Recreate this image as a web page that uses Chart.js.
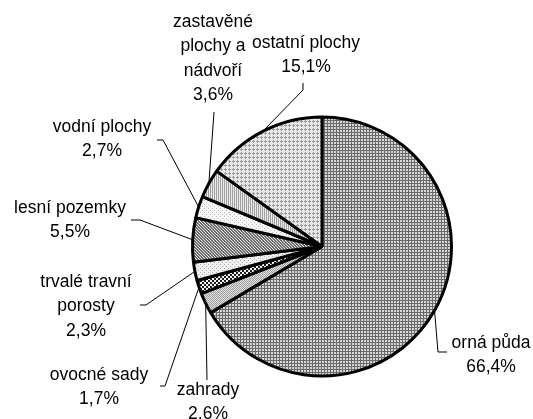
<!DOCTYPE html>
<html>
<head>
<meta charset="utf-8">
<script src="https://cdn.jsdelivr.net/npm/chart.js@4/dist/chart.umd.min.js"></script>
<style>
  body { margin: 0; background: #fff; }
  #cvg { display: block; }
</style>
</head>
<body>
<canvas id="cvg" width="533" height="419"></canvas>
<script>
// data
var categories = [['orná půda'], ['zahrady'], ['ovocné sady'], ['trvalé travní', 'porosty'],
	['lesní pozemky'], ['vodní plochy'], ['zastavěné', 'plochy a', 'nádvoří'], ['ostatní plochy']];
var shares = [66.4, 2.6, 1.7, 2.3, 5.5, 2.7, 3.6, 15.1];

// label placement: text centre x, first line y, knee points of the leader line
var labelPos = [
	{x: 491, y: 343, knee: [[447, 352], [438, 352]]},
	{x: 208, y: 390, knee: [[207, 380]]},
	{x: 99, y: 375, knee: [[160, 386], [165, 386]]},
	{x: 86, y: 282, knee: [[140, 305], [146, 305]]},
	{x: 70, y: 208, knee: [[131, 220], [140, 220]]},
	{x: 102, y: 127, knee: [[157, 140], [163, 140]]},
	{x: 213, y: 22, knee: [[214, 112]]},
	{x: 306, y: 43, knee: [[303, 83], [303, 90]]}
];

// little bitmap tiles for the hatched fills
function tile(w, h, bg, fg, dots) {
	var c = document.createElement('canvas');
	c.width = w; c.height = h;
	var g = c.getContext('2d');
	g.fillStyle = bg;
	g.fillRect(0, 0, w, h);
	g.fillStyle = fg;
	dots.forEach(function(d){ g.fillRect(d[0], d[1], 1, 1); });
	return document.getElementById('cvg').getContext('2d').createPattern(c, 'repeat');
}

var fills = [
	tile(3, 3, '#d6d6d6', '#6a6a6a', [[0,0],[1,0],[2,0],[0,1],[0,2]]),           // orná půda
	tile(2, 2, '#e0e0e0', '#a0a0a0', [[0,0],[1,1]]),                             // zahrady
	tile(4, 4, '#f4f4f4', '#1c1c1c', [[0,0],[1,0],[0,1],[1,1],[2,2],[3,2],[2,3],[3,3]]), // ovocné sady
	tile(4, 4, '#f0f0f0', '#b0b0b0', [[0,0],[2,2]]),                             // trvalé travní porosty
	tile(3, 3, '#6c6c6c', '#e6e6e6', [[0,0],[1,1],[2,2]]),                       // lesní pozemky
	tile(4, 4, '#f6f6f6', '#c4c4c4', [[0,0],[2,2]]),                             // vodní plochy
	tile(2, 1, '#eaeaea', '#a0a0a0', [[0,0]]),                                   // zastavěné plochy
	tile(4, 4, '#e8e8e8', '#9c9c9c', [[1,0],[0,1],[1,1],[2,1],[1,2]])            // ostatní plochy
];

var labelPlugin = {
	id: 'pieLabels',
	afterDatasetsDraw: function(chart){
		var ctx = chart.ctx;
		var arcs = chart.getDatasetMeta(0).data;
		ctx.save();
		ctx.font = '17.5px "Liberation Sans", Arial, sans-serif';
		ctx.fillStyle = '#000';
		ctx.textAlign = 'center';
		ctx.textBaseline = 'middle';
		arcs.forEach(function(arc, i){
			var p = labelPos[i];
			var mid = (arc.startAngle + arc.endAngle) / 2;
			var r = arc.outerRadius;
			var ex = arc.x + Math.cos(mid) * r;
			var ey = arc.y + Math.sin(mid) * r;
			ctx.beginPath();
			ctx.lineWidth = 1;
			ctx.strokeStyle = '#000';
			ctx.moveTo(p.knee[0][0], p.knee[0][1]);
			for (var k = 1; k < p.knee.length; k++) ctx.lineTo(p.knee[k][0], p.knee[k][1]);
			ctx.lineTo(ex, ey);
			ctx.stroke();

			var lines = categories[i].concat([shares[i].toFixed(1).replace('.', ',') + '%']);
			lines.forEach(function(t, j){
				ctx.fillText(t, p.x, p.y + j * 24.5);
			});
		});
		ctx.restore();
	}
};

var cv = document.getElementById('cvg');
var myPie = new Chart(cv.getContext('2d'), {
	type: 'pie',
	data: {
		labels: categories,
		datasets: [{
			data: shares,
			backgroundColor: fills,
			borderColor: '#000',
			borderWidth: 3
		}]
	},
	options: {
		responsive: false,
		animation: false,
		layout: {padding: {left: 191, right: 80, top: 115, bottom: 41}},
		plugins: {legend: {display: false}, tooltip: {enabled: false}}
	},
	plugins: [labelPlugin]
});
</script>
</body>
</html>
